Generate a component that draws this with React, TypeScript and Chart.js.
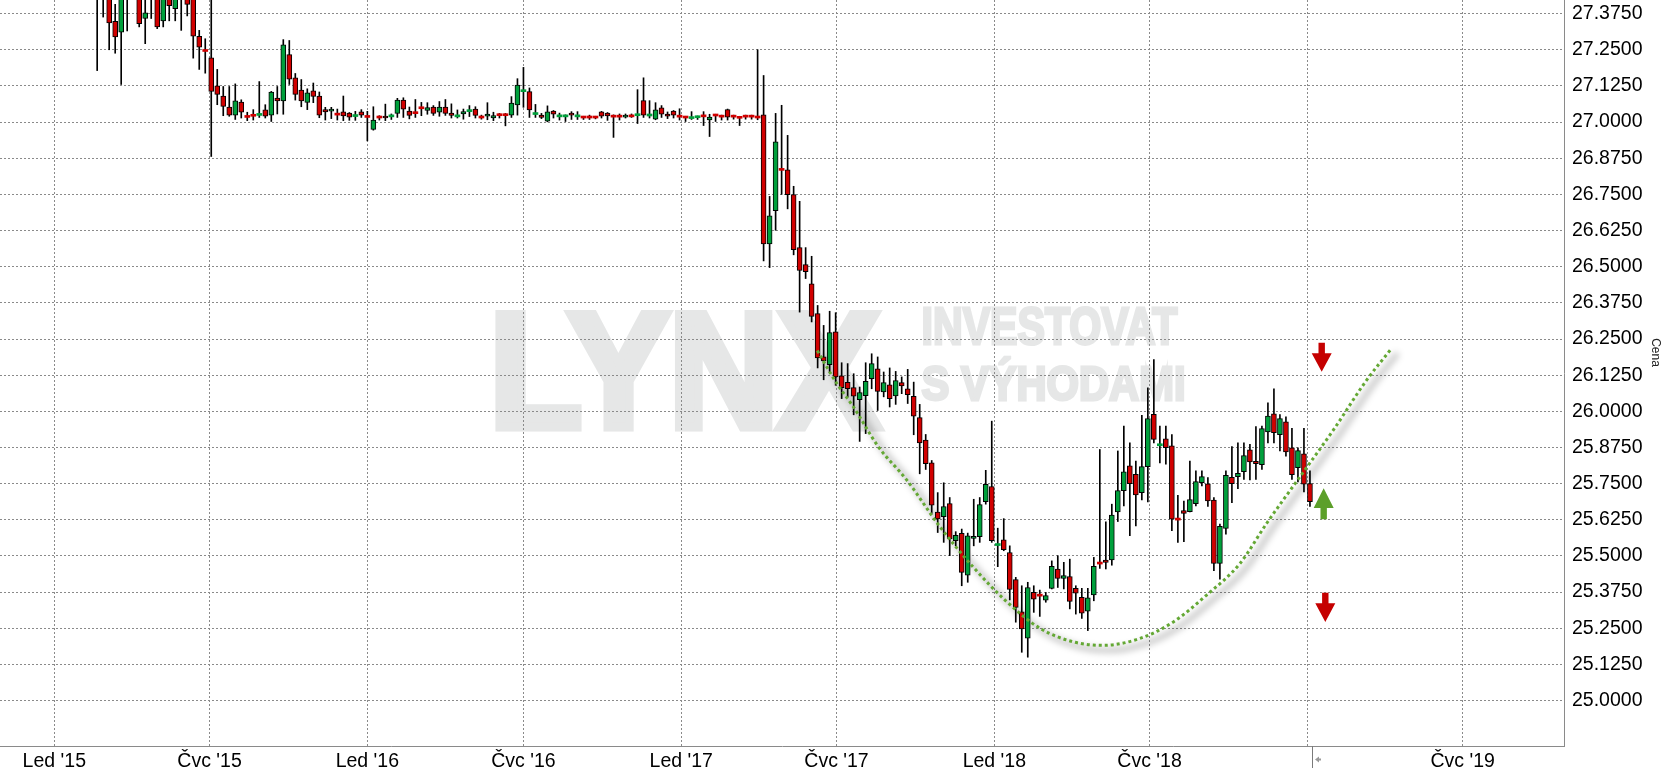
import { useEffect, useRef } from "react";
import { Chart, registerables } from "chart.js";

Chart.register(...registerables);

// x values are days counted from 1 Jan 2015; one weekly candle every 7 days
const firstCandleDay = 50;
const candleStepDays = 7;

const opens = [
  27.50, 27.48, 27.46, 27.348, 27.311, 27.46, 27.50, 27.45, 27.358, 27.46,
  27.44, 27.350, 27.44, 27.392, 27.46, 27.45, 27.44, 27.296, 27.246, 27.222,
  27.125, 27.090, 27.052, 27.024, 27.069, 27.018, 27.022, 27.023, 27.042, 27.024,
  27.083, 27.073, 27.233, 27.153, 27.111, 27.068, 27.108, 27.090, 27.043, 27.038,
  27.026, 27.035, 27.031, 27.019, 27.035, 27.018, 26.975, 27.016, 27.021, 27.018,
  27.030, 27.076, 27.038, 27.031, 27.048, 27.040, 27.052, 27.034, 27.052, 27.031,
  27.018, 27.028, 27.036, 27.045, 27.016, 27.020, 27.014, 27.024, 27.024, 27.024,
  27.059, 27.105, 27.105, 27.026, 27.024, 27.003, 27.038, 27.018, 27.018, 27.030,
  27.018, 27.016, 27.016, 27.015, 27.035, 27.031, 27.019, 27.019, 27.017, 27.020,
  27.022, 27.074, 27.021, 27.010, 27.049, 27.028, 27.038, 27.019, 27.016, 27.012,
  27.015, 27.020, 27.007, 27.023, 27.019, 27.043, 27.019, 27.015, 27.019, 27.019,
  27.016, 27.025, 26.579, 26.694, 26.835, 26.835, 26.749, 26.566, 26.507, 26.441,
  26.338, 26.188, 26.161, 26.275, 26.123, 26.100, 26.082, 26.040, 26.054, 26.113,
  26.147, 26.067, 26.092, 26.053, 26.099, 26.078, 26.052, 25.978, 25.901, 25.822,
  25.652, 25.636, 25.681, 25.553, 25.578, 25.434, 25.561, 25.567, 25.688, 25.740,
  25.536, 25.556, 25.512, 25.418, 25.307, 25.216, 25.374, 25.363, 25.347, 25.388,
  25.455, 25.422, 25.429, 25.388, 25.357, 25.309, 25.365, 25.474, 25.486, 25.486,
  25.652, 25.726, 25.812, 25.782, 25.719, 25.809, 25.990, 25.881, 25.905, 25.881,
  25.626, 25.657, 25.653, 25.681, 25.753, 25.749, 25.693, 25.474, 25.595, 25.772,
  25.774, 25.791, 25.867, 25.827, 25.816, 25.929, 25.991, 25.919, 25.964, 25.874,
  25.805, 25.853, 25.750,
];

const highs = [
  27.55, 27.52, 27.50, 27.407, 27.48, 27.50, 27.55, 27.49, 27.46, 27.50,
  27.48, 27.47, 27.47, 27.46, 27.50, 27.48, 27.47, 27.317, 27.288, 27.45,
  27.182, 27.123, 27.123, 27.132, 27.077, 27.034, 27.043, 27.140, 27.060, 27.106,
  27.123, 27.285, 27.282, 27.168, 27.147, 27.115, 27.135, 27.104, 27.051, 27.051,
  27.045, 27.090, 27.033, 27.037, 27.043, 27.037, 27.053, 27.022, 27.062, 27.028,
  27.082, 27.084, 27.052, 27.078, 27.068, 27.067, 27.057, 27.071, 27.078, 27.063,
  27.042, 27.045, 27.057, 27.053, 27.024, 27.067, 27.034, 27.030, 27.030, 27.088,
  27.150, 27.189, 27.118, 27.061, 27.030, 27.056, 27.040, 27.031, 27.025, 27.036,
  27.036, 27.020, 27.024, 27.020, 27.037, 27.033, 27.025, 27.028, 27.028, 27.028,
  27.112, 27.153, 27.074, 27.067, 27.057, 27.035, 27.040, 27.046, 27.020, 27.036,
  27.021, 27.036, 27.027, 27.027, 27.024, 27.045, 27.024, 27.020, 27.024, 27.024,
  27.250, 27.161, 26.743, 27.030, 27.058, 26.954, 26.778, 26.726, 26.566, 26.536,
  26.366, 26.297, 26.346, 26.341, 26.168, 26.165, 26.130, 26.084, 26.168, 26.199,
  26.188, 26.136, 26.150, 26.138, 26.119, 26.145, 26.101, 26.024, 25.920, 25.830,
  25.719, 25.753, 25.702, 25.584, 25.593, 25.579, 25.696, 25.702, 25.796, 25.966,
  25.596, 25.629, 25.535, 25.426, 25.397, 25.409, 25.397, 25.382, 25.374, 25.483,
  25.501, 25.478, 25.489, 25.397, 25.388, 25.388, 25.495, 25.868, 25.618, 25.679,
  25.863, 25.949, 25.891, 25.828, 25.986, 26.081, 26.179, 25.949, 25.949, 25.920,
  25.710, 25.690, 25.828, 25.794, 25.794, 25.771, 25.702, 25.610, 25.794, 25.878,
  25.891, 25.891, 25.886, 25.947, 25.949, 26.029, 26.078, 25.989, 25.981, 25.941,
  25.874, 25.941, 25.794,
];

const lows = [
  27.178, 27.363, 27.25, 27.238, 27.130, 27.315, 27.45, 27.329, 27.271, 27.358,
  27.323, 27.329, 27.350, 27.350, 27.317, 27.367, 27.221, 27.182, 27.169, 26.881,
  27.060, 27.022, 27.020, 27.009, 27.014, 27.005, 27.007, 27.016, 27.014, 27.002,
  27.028, 27.027, 27.130, 27.076, 27.053, 27.043, 27.067, 27.015, 27.007, 27.012,
  27.007, 27.005, 27.006, 27.006, 27.016, 26.935, 26.972, 27.007, 27.005, 27.009,
  27.016, 27.016, 27.011, 27.016, 27.022, 27.027, 27.023, 27.020, 27.023, 27.014,
  27.014, 27.010, 27.019, 27.014, 27.010, 27.008, 27.005, 27.014, 26.987, 27.016,
  27.024, 27.051, 27.016, 27.016, 27.012, 27.001, 27.014, 27.007, 27.002, 27.009,
  27.009, 27.009, 27.009, 27.011, 27.014, 27.006, 26.947, 27.007, 27.014, 27.016,
  26.995, 27.016, 27.014, 27.008, 27.016, 27.012, 27.014, 27.007, 27.002, 27.009,
  27.009, 26.988, 26.950, 27.002, 27.007, 27.007, 27.010, 26.988, 27.010, 27.010,
  27.008, 26.520, 26.497, 26.626, 26.750, 26.700, 26.541, 26.343, 26.459, 26.309,
  26.150, 26.109, 26.133, 26.090, 26.044, 26.050, 25.988, 25.896, 25.923, 26.078,
  26.003, 26.050, 26.015, 26.024, 26.061, 26.027, 25.919, 25.784, 25.799, 25.647,
  25.581, 25.547, 25.501, 25.535, 25.397, 25.409, 25.535, 25.547, 25.679, 25.547,
  25.463, 25.518, 25.348, 25.271, 25.167, 25.150, 25.305, 25.291, 25.340, 25.386,
  25.391, 25.386, 25.317, 25.299, 25.284, 25.242, 25.345, 25.457, 25.455, 25.468,
  25.619, 25.673, 25.570, 25.604, 25.694, 25.687, 25.891, 25.822, 25.817, 25.587,
  25.547, 25.549, 25.652, 25.673, 25.742, 25.671, 25.449, 25.420, 25.575, 25.684,
  25.733, 25.765, 25.763, 25.765, 25.799, 25.891, 25.891, 25.863, 25.845, 25.765,
  25.756, 25.721, 25.671,
];

const closes = [
  27.46, 27.45, 27.343, 27.294, 27.45, 27.44, 27.48, 27.340, 27.378, 27.44,
  27.329, 27.44, 27.402, 27.44, 27.44, 27.407, 27.297, 27.259, 27.244, 27.106,
  27.096, 27.054, 27.024, 27.073, 27.034, 27.016, 27.020, 27.025, 27.020, 27.104,
  27.073, 27.267, 27.148, 27.096, 27.073, 27.101, 27.089, 27.024, 27.035, 27.045,
  27.024, 27.021, 27.017, 27.021, 27.024, 27.016, 27.007, 27.014, 27.014, 27.020,
  27.076, 27.045, 27.023, 27.029, 27.046, 27.050, 27.030, 27.052, 27.030, 27.023,
  27.020, 27.036, 27.038, 27.023, 27.014, 27.028, 27.022, 27.022, 27.022, 27.066,
  27.128, 27.107, 27.042, 27.028, 27.016, 27.035, 27.027, 27.020, 27.020, 27.024,
  27.020, 27.014, 27.014, 27.014, 27.020, 27.021, 27.017, 27.017, 27.024, 27.018,
  27.024, 27.024, 27.023, 27.042, 27.027, 27.020, 27.024, 27.017, 27.014, 27.014,
  27.017, 27.018, 27.017, 27.021, 27.017, 27.017, 27.017, 27.013, 27.017, 27.017,
  27.014, 26.579, 26.676, 26.932, 26.833, 26.749, 26.559, 26.487, 26.483, 26.328,
  26.185, 26.174, 26.272, 26.119, 26.082, 26.078, 26.052, 26.065, 26.104, 26.165,
  26.069, 26.099, 26.044, 26.106, 26.088, 26.058, 25.983, 25.891, 25.819, 25.676,
  25.628, 25.671, 25.559, 25.571, 25.443, 25.570, 25.567, 25.678, 25.748, 25.553,
  25.538, 25.522, 25.384, 25.322, 25.248, 25.391, 25.351, 25.361, 25.363, 25.464,
  25.422, 25.432, 25.343, 25.371, 25.302, 25.355, 25.464, 25.472, 25.478, 25.641,
  25.726, 25.791, 25.750, 25.711, 25.809, 25.975, 25.903, 25.883, 25.874, 25.627,
  25.624, 25.647, 25.695, 25.757, 25.774, 25.690, 25.474, 25.602, 25.779, 25.750,
  25.786, 25.847, 25.825, 25.819, 25.940, 25.984, 25.926, 25.975, 25.860, 25.781,
  25.864, 25.748, 25.688,
];

// hand-drawn "cup" trend curve
const curveDays = [889.6, 912.2, 931.6, 960.7, 993.8, 1032.6, 1071.5, 1110.4, 1149.2, 1188.1, 1223.1, 1265.9, 1304.7, 1343.6, 1382.4, 1413.6, 1452.4, 1491.2, 1530.1, 1559.3];
const curveValues = [26.210, 26.097, 26.016, 25.878, 25.763, 25.601, 25.461, 25.342, 25.250, 25.203, 25.191, 25.215, 25.272, 25.365, 25.474, 25.613, 25.774, 25.935, 26.108, 26.218];

// annotation arrows
const arrowDays = [1477.7, 1480.0, 1481.9];
const arrowTailValues = [26.237, 25.627, 25.373];
const arrowTipValues = [26.137, 25.734, 25.272];
const arrowColors = ["#c50000", "#5c9f2a", "#c50000"];

// axes
const xTickDays = [0, 181, 365, 547, 731, 912, 1096, 1277, 1461, 1642];
const xTickLabels = ["Led '15", "Čvc '15", "Led '16", "Čvc '16", "Led '17", "Čvc '17", "Led '18", "Čvc '18", "", "Čvc '19"];
const yTicks = [25.0, 25.125, 25.25, 25.375, 25.5, 25.625, 25.75, 25.875, 26.0, 26.125, 26.25, 26.375, 26.5, 26.625, 26.75, 26.875, 27.0, 27.125, 27.25, 27.375];
const xMin = -63.3;
const xMax = 1760.2;
const yMin = 24.843;
const yMax = 27.422;
const lastMarkerDay = 1466.7;
const axisTitle = "Cena";

const RED = "#d10000";
const GREEN = "#00a03c";
const FONT = '"Liberation Sans", Arial, sans-serif';

function drawFitText(
  ctx: CanvasRenderingContext2D,
  text: string,
  left: number,
  right: number,
  baseline: number,
  capHeight: number,
  thicken: number
) {
  const l = left + thicken / 2;
  const r = right - thicken / 2;
  const b = baseline - thicken / 2;
  const size = (capHeight - thicken) / 0.716;
  ctx.font = `bold ${size}px ${FONT}`;
  ctx.textAlign = "left";
  ctx.textBaseline = "alphabetic";
  const w = ctx.measureText(text).width;
  ctx.save();
  ctx.translate(l, b);
  ctx.scale((r - l) / w, 1);
  ctx.lineJoin = "miter";
  ctx.lineWidth = thicken;
  ctx.fillText(text, 0, 0);
  if (thicken > 0) ctx.strokeText(text, 0, 0);
  ctx.restore();
}

function drawArrow(ctx: CanvasRenderingContext2D, cx: number, tailY: number, tipY: number, color: string) {
  const dir = Math.sign(tipY - tailY);
  const len = Math.abs(tipY - tailY);
  const headLen = len * 0.64;
  const headHalf = 10;
  const shaftHalf = 3.2;
  const baseY = tipY - dir * headLen;
  ctx.beginPath();
  ctx.moveTo(cx, tipY);
  ctx.lineTo(cx - headHalf, baseY);
  ctx.lineTo(cx - shaftHalf, baseY);
  ctx.lineTo(cx - shaftHalf, tailY);
  ctx.lineTo(cx + shaftHalf, tailY);
  ctx.lineTo(cx + shaftHalf, baseY);
  ctx.lineTo(cx + headHalf, baseY);
  ctx.closePath();
  ctx.fillStyle = color;
  ctx.fill();
}

const overlayPlugin = {
  id: "overlay",
  beforeDraw(chart: any) {
    const ctx = chart.ctx as CanvasRenderingContext2D;
    ctx.save();
    ctx.fillStyle = "#ffffff";
    ctx.fillRect(0, 0, chart.width, chart.height);
    ctx.fillStyle = "#e6e7e7";
    ctx.strokeStyle = "#e6e7e7";
    drawFitText(ctx, "LYNX", 485, 884, 431, 126, 9);
    drawFitText(ctx, "INVESTOVAT", 920, 1179, 345, 40, 3);
    drawFitText(ctx, "S VÝHODAMI", 920, 1187, 401.7, 37, 3);
    ctx.restore();
  },
  beforeDatasetDraw(chart: any, args: any) {
    if (args.index === 0) {
      const ctx = chart.ctx as CanvasRenderingContext2D;
      ctx.save();
      ctx.translate(6, 5);
      (ctx as any).filter = "blur(3px)";
    }
  },
  afterDatasetDraw(chart: any, args: any) {
    if (args.index === 0) {
      chart.ctx.restore();
    }
  },
  afterDraw(chart: any) {
    const ctx = chart.ctx as CanvasRenderingContext2D;
    const xs = chart.scales.x;
    const ys = chart.scales.y;
    const area = chart.chartArea;
    ctx.save();
    for (let i = 0; i < arrowDays.length; i++) {
      drawArrow(ctx, xs.getPixelForValue(arrowDays[i]), ys.getPixelForValue(arrowTailValues[i]), ys.getPixelForValue(arrowTipValues[i]), arrowColors[i]);
    }
    ctx.save();
    ctx.translate(1655.3, 352.5);
    ctx.rotate(Math.PI / 2);
    ctx.font = `12px ${FONT}`;
    ctx.textAlign = "center";
    ctx.textBaseline = "middle";
    ctx.fillStyle = "#222";
    ctx.fillText(axisTitle, 0, 0);
    ctx.restore();
    const mx = Math.round(xs.getPixelForValue(lastMarkerDay)) + 0.5;
    ctx.strokeStyle = "#7a7a7a";
    ctx.lineWidth = 1;
    ctx.beginPath();
    ctx.moveTo(mx, area.bottom);
    ctx.lineTo(mx, area.bottom + 22);
    ctx.stroke();
    ctx.fillStyle = "#9a9a9a";
    ctx.beginPath();
    ctx.moveTo(mx + 2.5, area.bottom + 13.5);
    ctx.lineTo(mx + 6.5, area.bottom + 10.5);
    ctx.lineTo(mx + 6.5, area.bottom + 16.5);
    ctx.closePath();
    ctx.fill();
    ctx.fillRect(mx + 6, area.bottom + 12.5, 2.5, 2);
    ctx.restore();
  },
};

export default function App() {
  const canvasRef = useRef<HTMLCanvasElement | null>(null);

  useEffect(() => {
    document.body.style.margin = "0";
    const canvas = canvasRef.current;
    if (!canvas) return;

    const days = opens.map((_, i) => firstCandleDay + candleStepDays * i);
    const wicks = days.map((d, i) => ({ x: d, y: [lows[i], highs[i]] }));
    const bodies = days.map((d, i) => ({ x: d, y: [Math.min(opens[i], closes[i]), Math.max(opens[i], closes[i])] }));
    const isDoji = opens.map((o, i) => Math.abs(closes[i] - o) < 0.004);
    const bodyColors = opens.map((o, i) => (closes[i] >= o ? GREEN : RED));
    const bodyBorders = isDoji.map((d) => (d ? 0 : 1));
    const curve = curveDays.map((d, i) => ({ x: d, y: curveValues[i] }));

    const zeroPad = (s: any) => {
      s.paddingTop = 0;
      s.paddingBottom = 0;
      s.paddingLeft = 0;
      s.paddingRight = 0;
    };

    const chart = new Chart(canvas, {
      type: "line",
      data: {
        datasets: [
          {
            type: "line",
            label: "shadow",
            data: curve,
            borderColor: "rgba(0,0,0,0.2)",
            borderWidth: 6,
            pointRadius: 0,
            cubicInterpolationMode: "monotone",
            order: 5,
          } as any,
          {
            type: "bar",
            label: "wicks",
            data: wicks,
            backgroundColor: "#000",
            borderWidth: 0,
            barThickness: 1,
            maxBarThickness: 1,
            grouped: false,
            order: 4,
          } as any,
          {
            type: "bar",
            label: "bodies",
            data: bodies,
            backgroundColor: bodyColors,
            borderColor: "#000",
            borderWidth: bodyBorders,
            borderSkipped: false,
            barThickness: 5,
            maxBarThickness: 5,
            minBarLength: 2,
            grouped: false,
            order: 3,
          } as any,
          {
            type: "line",
            label: "curve",
            data: curve,
            borderColor: "#64a834",
            borderWidth: 3,
            borderDash: [3, 3],
            pointRadius: 0,
            cubicInterpolationMode: "monotone",
            order: 1,
          } as any,
        ],
      },
      options: {
        animation: false,
        responsive: false,
        maintainAspectRatio: false,
        events: [],
        layout: { padding: 0 },
        plugins: { legend: { display: false }, tooltip: { enabled: false } },
        scales: {
          x: {
            type: "linear",
            min: xMin,
            max: xMax,
            bounds: "data",
            offset: false,
            afterBuildTicks: (s: any) => {
              s.ticks = xTickDays.map((v) => ({ value: v }));
            },
            afterFit: (s: any) => {
              s.height = 33;
              zeroPad(s);
            },
            grid: { color: "#8a8a8a", lineWidth: 1, drawTicks: false, offset: false },
            border: { display: true, color: "#8a8a8a", width: 1, dash: [2, 2] },
            ticks: {
              autoSkip: false,
              maxRotation: 0,
              minRotation: 0,
              padding: 4,
              color: "#000",
              font: { family: FONT, size: 19.5 },
              callback: (_v: any, i: number) => xTickLabels[i],
            },
          },
          y: {
            type: "linear",
            position: "right",
            min: yMin,
            max: yMax,
            bounds: "data",
            afterBuildTicks: (s: any) => {
              s.ticks = yTicks.map((v) => ({ value: v }));
            },
            afterFit: (s: any) => {
              s.width = 106;
              zeroPad(s);
            },
            grid: { color: "#8a8a8a", lineWidth: 1, drawTicks: false },
            border: { display: true, color: "#8a8a8a", width: 1, dash: [2, 2] },
            ticks: {
              autoSkip: false,
              padding: 8,
              color: "#000",
              font: { family: FONT, size: 19.5 },
              callback: (v: any) => Number(v).toFixed(4),
            },
          },
        },
      } as any,
      plugins: [overlayPlugin],
    });

    return () => chart.destroy();
  }, []);

  return (
    <div style={{ width: 1670, height: 779, position: "relative" }}>
      <canvas ref={canvasRef} width={1670} height={779} style={{ display: "block" }} />
    </div>
  );
}
